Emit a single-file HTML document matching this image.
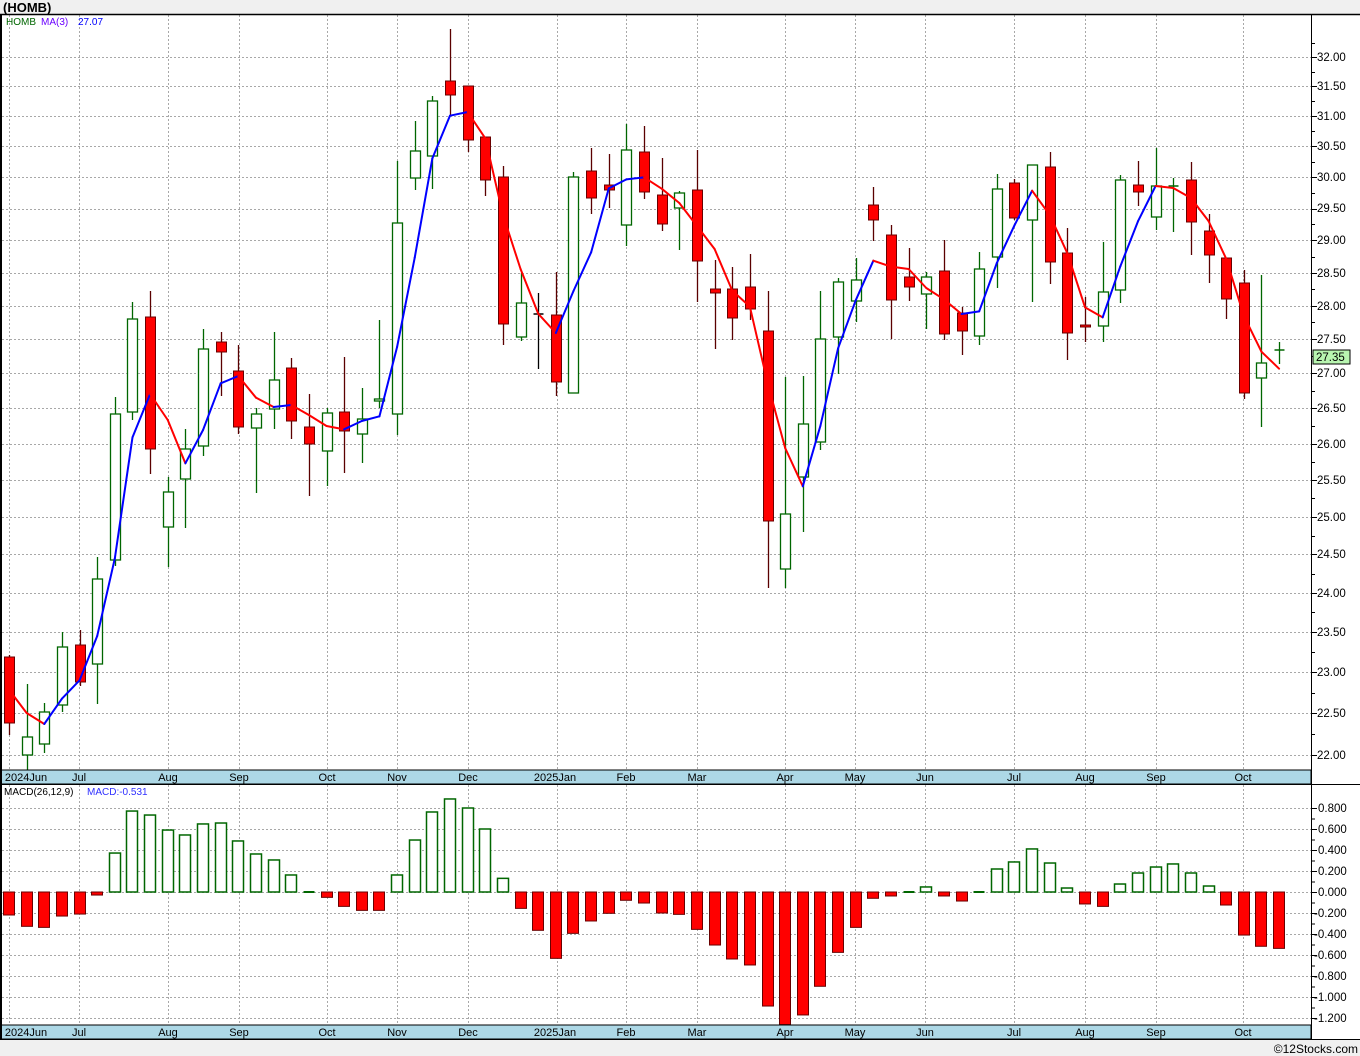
<!DOCTYPE html>
<html><head><meta charset="utf-8"><style>
html,body{margin:0;padding:0;background:#fff;}
svg{display:block;}
text{font-family:"Liberation Sans",sans-serif;}
</style></head><body>
<svg id="s" width="1360" height="1056" viewBox="0 0 1360 1056" xmlns="http://www.w3.org/2000/svg">
<rect x="0" y="0" width="1360" height="1056" fill="#fff"/>
<rect x="0" y="0" width="1360" height="14" fill="#f0f0f0"/>
<rect x="0" y="1040" width="1360" height="16" fill="#f0f0f0"/>
<g id="grid"></g>
<g id="macd"></g>
<g id="cand"></g>
<g id="ma"></g>
<!-- date bars -->
<rect x="1" y="770" width="1310" height="14" fill="#add8e6" stroke="#000" stroke-width="1"/>
<rect x="1" y="1025" width="1310" height="14" fill="#add8e6" stroke="#000" stroke-width="1"/>
<line x1="0" y1="14.5" x2="1360" y2="14.5" stroke="#000" stroke-width="1.5"/>
<line x1="1" y1="14" x2="1" y2="1040" stroke="#000" stroke-width="2"/>
<line x1="1311.5" y1="14" x2="1311.5" y2="1040" stroke="#000" stroke-width="1"/>
<line x1="0" y1="784.5" x2="1360" y2="784.5" stroke="#000" stroke-width="1"/>
<line x1="0" y1="1039.5" x2="1360" y2="1039.5" stroke="#000" stroke-width="1"/>
<g id="ticks"></g>
<text x="3" y="12" font-size="13" font-weight="bold" fill="#000">(HOMB)</text>
<text x="6" y="25" font-size="10" fill="#006600">HOMB</text>
<text x="41" y="25" font-size="10" fill="#6a00ff">MA(3)</text>
<text x="78" y="25" font-size="10" fill="#0000ff">27.07</text>
<text x="4" y="795" font-size="10" fill="#000">MACD(26,12,9)</text>
<text x="87" y="795" font-size="10" fill="#3030ff">MACD:-0.531</text>
<g font-size="11.5" fill="#000">
<text x="1317" y="61">32.00</text><text x="1317" y="90">31.50</text><text x="1317" y="120">31.00</text>
<text x="1317" y="150">30.50</text><text x="1317" y="181">30.00</text><text x="1317" y="212">29.50</text>
<text x="1317" y="244">29.00</text><text x="1317" y="277">28.50</text><text x="1317" y="310">28.00</text>
<text x="1317" y="343">27.50</text><text x="1317" y="377">27.00</text><text x="1317" y="412">26.50</text>
<text x="1317" y="448">26.00</text><text x="1317" y="484">25.50</text><text x="1317" y="521">25.00</text>
<text x="1317" y="558">24.50</text><text x="1317" y="597">24.00</text><text x="1317" y="636">23.50</text>
<text x="1317" y="676">23.00</text><text x="1317" y="717">22.50</text><text x="1317" y="759">22.00</text>
<text x="1318" y="812">0.800</text><text x="1318" y="833">0.600</text><text x="1318" y="854">0.400</text>
<text x="1318" y="875">0.200</text><text x="1318" y="896">0.000</text><text x="1314" y="917">-0.200</text>
<text x="1314" y="938">-0.400</text><text x="1314" y="959">-0.600</text><text x="1314" y="980">-0.800</text>
<text x="1314" y="1001">-1.000</text><text x="1314" y="1022">-1.200</text>
</g>
<rect x="1313" y="350" width="37" height="14" fill="#b8f5b0" stroke="#000" stroke-width="1"/>
<text x="1316" y="361" font-size="11.5" fill="#000">27.35</text>
<g font-size="11" fill="#000" text-anchor="middle">
<text x="26" y="781">2024Jun</text><text x="79" y="781">Jul</text><text x="168" y="781">Aug</text>
<text x="239" y="781">Sep</text><text x="327" y="781">Oct</text><text x="397" y="781">Nov</text>
<text x="468" y="781">Dec</text><text x="555" y="781">2025Jan</text><text x="626" y="781">Feb</text>
<text x="697" y="781">Mar</text><text x="785" y="781">Apr</text><text x="855" y="781">May</text>
<text x="925" y="781">Jun</text><text x="1014" y="781">Jul</text><text x="1085" y="781">Aug</text>
<text x="1156" y="781">Sep</text><text x="1243" y="781">Oct</text>
<text x="26" y="1036">2024Jun</text><text x="79" y="1036">Jul</text><text x="168" y="1036">Aug</text>
<text x="239" y="1036">Sep</text><text x="327" y="1036">Oct</text><text x="397" y="1036">Nov</text>
<text x="468" y="1036">Dec</text><text x="555" y="1036">2025Jan</text><text x="626" y="1036">Feb</text>
<text x="697" y="1036">Mar</text><text x="785" y="1036">Apr</text><text x="855" y="1036">May</text>
<text x="925" y="1036">Jun</text><text x="1014" y="1036">Jul</text><text x="1085" y="1036">Aug</text>
<text x="1156" y="1036">Sep</text><text x="1243" y="1036">Oct</text>
</g>
<text x="1358" y="1053" font-size="12" fill="#000" text-anchor="end">©12Stocks.com</text>
</svg>
<script>
(function(){
var NS="http://www.w3.org/2000/svg";
function el(p,t,a){var e=document.createElementNS(NS,t);for(var k in a)e.setAttribute(k,a[k]);p.appendChild(e);return e;}
var grid=document.getElementById('grid'),ticks=document.getElementById('ticks');
var py=function(p){return 57+(Math.log(32)-Math.log(p))/(Math.log(32)-Math.log(22))*698;};
var gx=[9,79,168,239,327,397,468,557,626,697,785,855,925,1014,1085,1156,1243];
gx.forEach(function(x){
 el(grid,'line',{x1:x+.5,y1:15,x2:x+.5,y2:770,stroke:'#a8a8a8','stroke-dasharray':'2,2'});
 el(grid,'line',{x1:x+.5,y1:785,x2:x+.5,y2:1025,stroke:'#a8a8a8','stroke-dasharray':'2,2'});
 el(grid,'line',{x1:x+.5,y1:770,x2:x+.5,y2:775,stroke:'#888'});
 el(grid,'line',{x1:x+.5,y1:1025,x2:x+.5,y2:1030,stroke:'#888'});
});
for(var p=22;p<=32.001;p+=0.5){var y=Math.round(py(p))+.5;
 el(grid,'line',{x1:2,y1:y,x2:1311,y2:y,stroke:'#a8a8a8','stroke-dasharray':'2,2'});
 el(ticks,'line',{x1:1311,y1:y,x2:1317,y2:y,stroke:'#000'});}
for(var p=21.75;p<=32.3;p+=0.5){var y=Math.round(py(p))+.5;if(y>16&&y<769)el(ticks,'line',{x1:1311,y1:y,x2:1315,y2:y,stroke:'#000'});}
for(var i=0;i<11;i++){var y=808+i*21+.5;
 el(grid,'line',{x1:2,y1:y,x2:1311,y2:y,stroke:'#a8a8a8','stroke-dasharray':'2,2'});
 el(ticks,'line',{x1:1311,y1:y,x2:1317,y2:y,stroke:'#000'});
 if(i<10)el(ticks,'line',{x1:1311,y1:y+10.5,x2:1315,y2:y+10.5,stroke:'#000'});}
var X=function(i){return 9+i*17.64;};
var D=[
['r',655,657,723,735],['g',684,737,755,770],['g',703,712,744,753],['g',632,647,705,712],['r',630,645,682,686],
['g',557,579,664,704],['g',397,414,560,566],['g',302,319,412,420],['r',291,317,449,474],['g',477,492,527,567],
['g',429,449,479,528],['g',329,349,446,456],['r',332,342,352,396],['r',345,371,427,434],['g',408,414,428,493],
['g',332,380,409,429],['r',358,368,421,439],['r',394,427,444,496],['g',408,413,451,486],['r',357,412,431,473],
['g',388,419,434,463],['g',320,399,401,408],['g',161,223,414,435],['g',121,151,178,190],['g',96,101,156,189],
['r',29,81,95,116],['r',86,86,140,152],['r',137,137,180,196],['r',166,177,324,345],['g',273,303,337,341],
['k',293,314,314,369],['r',272,315,382,396],['g',172,177,393,393],['r',148,171,198,214],['r',154,185,190,208],
['g',124,150,225,246],['r',126,152,192,199],['r',158,195,224,231],['g',191,193,208,250],['r',150,190,261,302],
['r',260,289,293,349],['r',267,289,318,340],['r',254,287,309,320],['r',291,331,521,588],['g',377,514,569,588],
['g',376,424,477,532],['g',291,339,442,450],['g',278,282,337,374],['g',258,280,301,322],['r',187,205,220,241],
['r',225,235,300,339],['r',248,277,287,301],['g',272,277,294,329],['r',240,271,334,340],['r',307,313,331,355],
['g',252,269,336,345],['g',174,189,257,288],['r',179,183,218,220],['g',165,165,220,302],['r',152,167,262,284],
['r',228,253,333,360],['r',297,325,327,342],['g',242,292,326,342],['g',175,180,290,303],['r',161,185,192,206],
['g',148,186,217,230],['g',178,186,186,232],['r',162,180,222,255],['r',214,231,255,283],['r',258,258,299,319],
['r',270,283,393,399],['g',275,363,378,427],['g',342,350,350,364]];
var M=[-0.219,-0.327,-0.337,-0.229,-0.21,-0.029,0.371,0.771,0.733,0.59,0.543,0.648,0.657,0.486,0.362,0.305,0.162,0.01,
-0.051,-0.137,-0.175,-0.175,0.162,0.495,0.762,0.886,0.8,0.6,0.13,-0.156,-0.365,-0.632,-0.394,-0.276,-0.203,-0.079,-0.105,
-0.2,-0.213,-0.356,-0.505,-0.638,-0.695,-1.086,-1.263,-1.171,-0.898,-0.575,-0.337,-0.06,-0.038,0.004,0.048,-0.038,-0.086,
0.003,0.219,0.286,0.41,0.276,0.038,-0.114,-0.137,0.076,0.181,0.238,0.267,0.181,0.057,-0.124,-0.41,-0.517,-0.537];
var mg=document.getElementById('macd');
M.forEach(function(v,i){var x=Math.round(X(i))-5.5,h=Math.abs(v)*105;var y=v>=0?892-h:892;
 if(h<1.5){el(mg,'line',{x1:x,y1:892,x2:x+11,y2:892,stroke:'#006600','stroke-width':2});return;}
 if(v>=0)el(mg,'rect',{x:x,y:y,width:11,height:h,fill:'#fff',stroke:'#006600','stroke-width':1.5});
 else el(mg,'rect',{x:x,y:y,width:11,height:h,fill:'#ff0000',stroke:'#6a0000','stroke-width':1});});
var cg=document.getElementById('cand');
D.forEach(function(d,i){var x=Math.round(X(i))+.5;var c=d[0];
 var wc=c=='r'?'#5a0000':(c=='g'?'#006600':'#000');
 el(cg,'line',{x1:x,y1:d[1],x2:x,y2:d[4],stroke:wc,'stroke-width':1.3});
 var h=d[3]-d[2];
 if(h<2){el(cg,'line',{x1:x-5,y1:d[2],x2:x+5,y2:d[2],stroke:wc,'stroke-width':c=='r'?3:1.5});if(c=='r')el(cg,'rect',{x:x-5,y:d[2]-1,width:10,height:2,fill:'#f00'});return;}
 if(c=='r')el(cg,'rect',{x:x-5,y:d[2],width:10,height:h,fill:'#ff0000',stroke:'#6a0000','stroke-width':1});
 else el(cg,'rect',{x:x-5,y:d[2],width:10,height:h,fill:'#fff',stroke:'#006600','stroke-width':1.3});});
// MA
var cl=D.map(function(d){return d[0]=='g'?d[2]:d[3];});
var ma=[695,713];
for(var i=2;i<D.length;i++){ma.push((cl[i]+cl[i-1]+cl[i-2])/3);}
var mgp=document.getElementById('ma');
for(var i=1;i<ma.length;i++){var col=ma[i]<ma[i-1]?'#0000ff':'#ff0000';
 var x0=i==1?13:X(i-1);
 el(mgp,'line',{x1:x0,y1:ma[i-1],x2:X(i),y2:ma[i],stroke:col,'stroke-width':2,'stroke-linecap':'round'});}
})();
</script>
</body></html>
